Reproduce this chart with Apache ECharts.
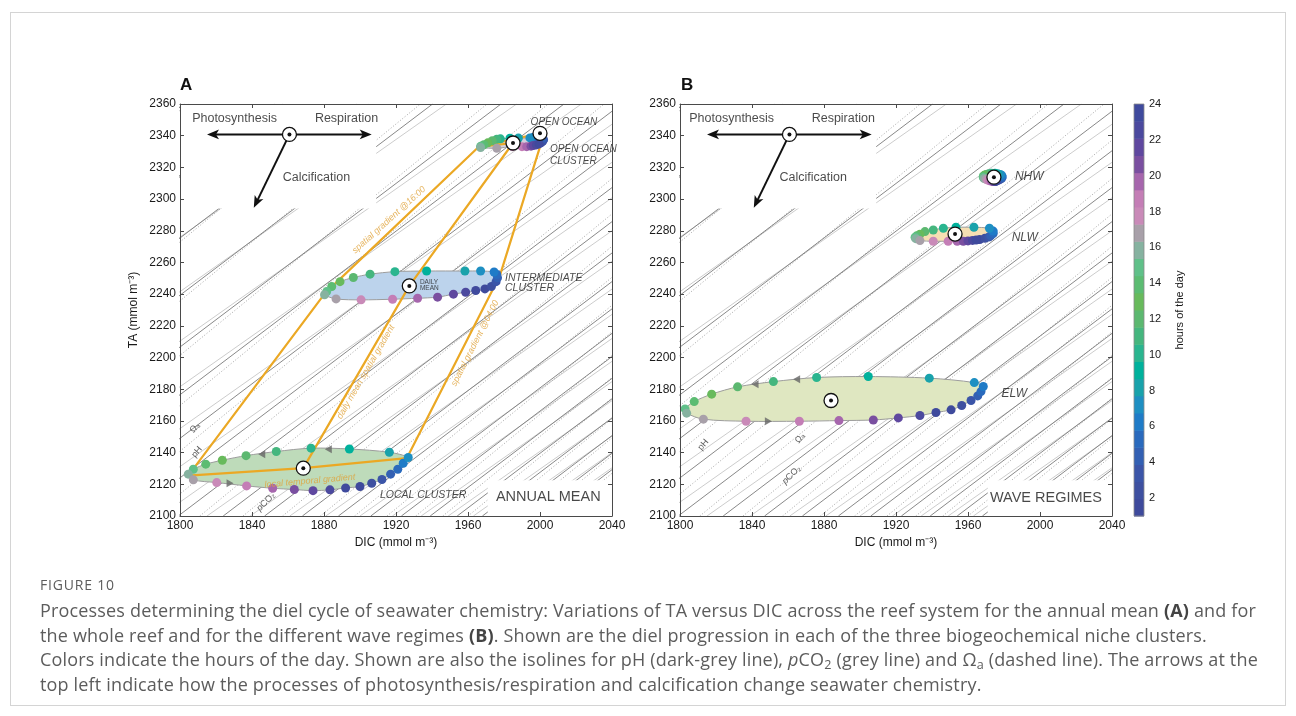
<!DOCTYPE html>
<html>
<head>
<meta charset="utf-8">
<title>TA versus DIC diel cycles</title>
<script src="https://cdn.jsdelivr.net/npm/echarts@6/dist/echarts.min.js"></script>
<style>
  html, body { margin: 0; padding: 0; background: #fff; }
  #wrap { position: relative; width: 1296px; height: 716px; overflow: hidden; }
  #frame { position: absolute; left: 10px; top: 12px; width: 1276px; height: 694px; border: 1px solid #d4d4d4; box-sizing: border-box; }
  #chart { position: absolute; left: 0; top: 0; width: 1296px; height: 716px; }
  #caption { position: absolute; left: 40px; top: 574px; font-family: 'Open Sans', Lato, sans-serif; color: #5c5c5c; white-space: nowrap; }
  #caption .fig { font-size: 14px; line-height: 22px; letter-spacing: 0.8px; }
  #caption .txt { font-size: 18px; line-height: 24.7px; margin-top: 2px; letter-spacing: 0.17px; }
  #caption b { color: #444; }
  #caption sub { font-size: 0.7em; line-height: 0; vertical-align: -0.25em; }
</style>
</head>
<body>
<div id="wrap">
  <div id="frame"></div>
  <div id="chart"></div>
  <div id="caption">
    <div class="fig">FIGURE 10</div>
    <div class="txt">Processes determining the diel cycle of seawater chemistry: Variations of TA versus DIC across the reef system for the annual mean <b>(A)</b> and for<br>the whole reef and for the different wave regimes <b>(B)</b>. Shown are the diel progression in each of the three biogeochemical niche clusters.<br>Colors indicate the hours of the day. Shown are also the isolines for pH (dark-grey line), <i>p</i>CO<sub>2</sub> (grey line) and Ω<sub>a</sub> (dashed line). The arrows at the<br>top left indicate how the processes of photosynthesis/respiration and calcification change seawater chemistry.</div>
  </div>
</div>
<script>
// ---------- hours of the day and their colours ----------
const hours = [1, 2, 3, 4, 5, 6, 7, 8, 9, 10, 11, 12, 13, 14, 15, 16, 17, 18, 19, 20, 21, 22, 23, 24];
const hourColors = ['#3e4a9c', '#3e50a0', '#3b55a8', '#3360b3', '#2a6abd', '#1f7bc7', '#1e8fc2', '#19a2ab',
                    '#00b19c', '#2ab58f', '#45b67e', '#5cb870', '#68ba5c', '#5cbc72', '#60c089', '#86b2a0',
                    '#a8a0a9', '#c98ab8', '#c47eb6', '#a666ad', '#7a4fa0', '#5f489f', '#4b499e', '#3f4a9d'];
const colorbarTicks = [2, 4, 6, 8, 10, 12, 14, 16, 18, 20, 22, 24];

// ---------- panel A: annual mean, hourly values (hours 1-24) ----------
const localDIC = [1900.0, 1906.5, 1912.2, 1917.0, 1921.0, 1924.0, 1926.8, 1916.3, 1894.1, 1872.8, 1853.5, 1836.7,
                  1823.5, 1814.3, 1807.4, 1804.6, 1807.4, 1820.4, 1837.0, 1851.5, 1863.5, 1873.9, 1883.3, 1892.0];
const localTA  = [2118.6, 2120.7, 2123.0, 2126.4, 2129.5, 2133.3, 2136.9, 2140.2, 2142.3, 2142.8, 2140.7, 2138.1,
                  2135.2, 2132.7, 2129.5, 2126.4, 2122.8, 2121.1, 2119.0, 2117.5, 2116.7, 2116.0, 2116.5, 2117.7];

const interDIC = [1969.4, 1973.0, 1975.6, 1976.4, 1976.0, 1974.5, 1967.0, 1958.3, 1937.0, 1919.4, 1905.6, 1896.3,
                  1888.9, 1884.3, 1881.5, 1880.3, 1886.7, 1900.6, 1918.1, 1932.0, 1943.1, 1951.9, 1958.7, 1964.3];
const interTA  = [2243.3, 2244.8, 2247.9, 2250.3, 2252.4, 2254.0, 2254.6, 2254.6, 2254.6, 2254.2, 2252.6, 2250.5,
                  2247.9, 2244.8, 2241.6, 2239.6, 2237.0, 2236.4, 2236.8, 2237.4, 2238.1, 2240.0, 2241.2, 2242.3];

const openDIC  = [2000.5, 2001.5, 2002.0, 2001.5, 1999.0, 1996.0, 1994.4, 1988.0, 1983.3, 1978.0, 1976.0, 1973.5,
                  1971.0, 1968.8, 1967.0, 1967.0, 1976.0, 1984.7, 1990.0, 1992.6, 1995.0, 1996.3, 1998.0, 1999.5];
const openTA   = [2335.5, 2336.5, 2337.5, 2338.3, 2338.8, 2338.8, 2338.6, 2338.5, 2338.4, 2338.0, 2337.8, 2336.8,
                  2335.5, 2334.3, 2333.3, 2332.5, 2332.1, 2333.1, 2333.1, 2333.1, 2333.4, 2333.8, 2334.2, 2334.8];

// daily means: local, intermediate, open-ocean cluster, open ocean
const meanA_DIC = [1868.5, 1927.4, 1985.0, 2000.0];
const meanA_TA  = [2130.2, 2245.2, 2335.4, 2341.5];

// gradients between the clusters
const grad16DIC   = [1804.6, 1880.5, 1966.0];
const grad16TA    = [2125.5, 2240.5, 2333.0];
const gradMeanDIC = [1868.5, 1927.4, 1985.0];
const gradMeanTA  = [2130.2, 2245.2, 2335.4];
const grad04DIC   = [1926.0, 1977.8, 2001.5];
const grad04TA    = [2136.5, 2252.0, 2338.5];
const localGradDIC = [1804.6, 1868.5, 1926.0];
const localGradTA  = [2125.5, 2130.2, 2136.5];
const openGradDIC  = [1985.0, 1966.0, 2000.0];
const openGradTA   = [2335.4, 2333.0, 2341.5];

// direction marks on the local loop
const turnA_DIC = [1845.4, 1882.4, 1827.8];
const turnA_TA  = [2139.0, 2142.1, 2120.7];
const turnA_rot = [90, 90, -90];

// ---------- panel B: wave regimes, hourly values (hours 1-24) ----------
const nhwDIC = [1976.0, 1977.0, 1978.0, 1978.8, 1979.0, 1978.8, 1978.0, 1976.5, 1975.0, 1973.0, 1971.5, 1970.0,
                1969.0, 1968.5, 1968.5, 1969.0, 1970.0, 1971.0, 1972.0, 1973.0, 1974.0, 1974.8, 1975.3, 1975.7];
const nhwTA  = [2311.5, 2312.0, 2312.6, 2313.3, 2314.0, 2314.8, 2315.5, 2316.0, 2316.3, 2316.3, 2316.0, 2315.5,
                2315.0, 2314.3, 2313.6, 2313.0, 2312.5, 2312.0, 2311.6, 2311.3, 2311.1, 2311.1, 2311.2, 2311.3];

const nlwDIC = [1966.5, 1969.4, 1971.5, 1972.6, 1974.0, 1974.0, 1971.9, 1963.3, 1953.3, 1946.3, 1940.7, 1936.1,
                1933.3, 1931.5, 1930.6, 1931.0, 1933.3, 1940.7, 1949.0, 1954.0, 1957.4, 1960.0, 1962.5, 1964.5];
const nlwTA  = [2274.5, 2275.3, 2276.0, 2276.8, 2278.3, 2279.8, 2281.6, 2282.2, 2282.2, 2281.6, 2280.5, 2279.5,
                2277.8, 2276.8, 2275.9, 2275.0, 2273.8, 2273.4, 2273.4, 2273.4, 2273.4, 2273.6, 2273.9, 2274.2];

const elwDIC = [1950.6, 1956.5, 1961.7, 1965.4, 1967.2, 1968.5, 1963.5, 1938.5, 1904.6, 1875.9, 1851.9, 1832.0,
                1817.6, 1807.9, 1802.8, 1803.7, 1813.0, 1836.7, 1866.3, 1888.3, 1907.4, 1921.3, 1933.3, 1942.2];
const elwTA  = [2167.0, 2169.7, 2172.9, 2175.8, 2178.5, 2181.7, 2184.2, 2187.0, 2188.0, 2187.4, 2184.8, 2181.5,
                2176.9, 2172.2, 2167.6, 2164.9, 2161.1, 2159.8, 2159.8, 2160.2, 2160.6, 2161.9, 2163.4, 2165.3];

// daily means: NHW, NLW, ELW
const meanB_DIC = [1974.4, 1952.8, 1883.9];
const meanB_TA  = [2313.8, 2277.9, 2172.9];

const turnB_DIC = [1841.7, 1864.8, 1849.1];
const turnB_TA  = [2183.2, 2186.3, 2159.8];
const turnB_rot = [90, 90, -90];

// ---------- process arrows (photosynthesis / respiration / calcification) ----------
const processDIC = 1860.8, processTA = 2340.8;
const photoTip = [1815.0, 2340.8];
const respTip  = [1906.5, 2340.8];
const calcTip  = [1841.0, 2294.5];

// ---------- isolines: DIC where each line meets TA = 2100, and slope dTA/dDIC ----------
const phD0    = [1500, 1550, 1596, 1638, 1676, 1711, 1743, 1772, 1799, 1824, 1847, 1868, 1888, 1906, 1923,
                 1939, 1954, 1968, 1981, 1994, 2006, 2018, 2029, 2040];
const pco2D0  = [1480, 1532, 1580, 1623, 1662, 1698, 1731, 1761, 1789, 1815, 1839, 1861, 1881, 1900, 1918,
                 1934, 1949, 1963, 1977, 1990, 2002, 2014, 2025, 2036];
const omegaD0 = [1522, 1570, 1614, 1654, 1691, 1725, 1756, 1785, 1811, 1835, 1857, 1878, 1897, 1915, 1931,
                 1946, 1960, 1974, 1987, 1999, 2011, 2022, 2033];
const phSlope = 0.86, pco2Slope = 0.80, omegaSlope = 0.93;

// blank areas behind the process arrows and the panel titles [DIC0, TA0, DIC1, TA1]
const masks = [[1800, 2294, 1909, 2360], [1971, 2100, 2040, 2122.5]];

const TA_MIN = 2100, TA_MAX = 2360;
const FONT = "'Liberation Sans', Arial, Helvetica, sans-serif";
const ORANGE = '#eba824';
const INK = '#1a1a1a';
const AXIS = { color: '#4a4a4a', width: 1 };

// ---------- helpers ----------
const pairs = (xs, ys) => xs.map((x, i) => [x, ys[i]]);
const plain = v => String(v);

function dicAxis(grid, pos, labelled) {
  return {
    type: 'value', gridIndex: grid, position: pos, min: 1800, max: 2040, interval: 40, z: 10,
    axisLine: { show: true, onZero: false, lineStyle: AXIS },
    axisTick: { show: true, inside: true, length: 4, lineStyle: AXIS },
    axisLabel: { show: labelled, margin: 4, color: INK, fontSize: 12, fontFamily: FONT, formatter: plain },
    splitLine: { show: false },
    name: labelled ? 'DIC (mmol m⁻³)' : '', nameLocation: 'middle', nameGap: 18,
    nameTextStyle: { color: INK, fontSize: 12, fontFamily: FONT }
  };
}
function taAxis(grid, pos, labelled, named) {
  return {
    type: 'value', gridIndex: grid, position: pos, min: TA_MIN, max: TA_MAX, interval: 20, z: 10,
    axisLine: { show: true, onZero: false, lineStyle: AXIS },
    axisTick: { show: true, inside: true, length: 4, lineStyle: AXIS },
    axisLabel: { show: labelled, margin: 4, color: INK, fontSize: 12, fontFamily: FONT, formatter: plain },
    splitLine: { show: false },
    name: named ? 'TA (mmol m⁻³)' : '', nameLocation: 'middle', nameGap: 40, nameRotate: 90,
    nameTextStyle: { color: INK, fontSize: 12, fontFamily: FONT }
  };
}

function isoSeries(ax, d0s, slope, lineStyle) {
  const data = [];
  d0s.forEach(d => { data.push([d, TA_MIN], [d + (TA_MAX - TA_MIN) / slope, TA_MAX], '-'); });
  return { type: 'line', xAxisIndex: ax, yAxisIndex: ax, z: 1, silent: true, symbol: 'none',
           clip: true, connectNulls: false, data, lineStyle };
}
function maskSeries(ax) {
  return {
    type: 'custom', xAxisIndex: ax, yAxisIndex: ax, z: 2, silent: true, data: masks,
    renderItem(p, api) {
      const a = api.coord([api.value(0), api.value(1)]);
      const b = api.coord([api.value(2), api.value(3)]);
      return { type: 'rect', shape: { x: Math.min(a[0], b[0]), y: Math.min(a[1], b[1]),
               width: Math.abs(b[0] - a[0]), height: Math.abs(b[1] - a[1]) }, style: { fill: '#fff' } };
    }
  };
}
function blobSeries(ax, dic, ta, fill) {
  return {
    type: 'custom', xAxisIndex: ax, yAxisIndex: ax, z: 3, silent: true, data: [[dic[0], ta[0]]],
    renderItem(p, api) {
      const pts = dic.map((d, i) => api.coord([d, ta[i]]));
      return { type: 'polygon', shape: { points: pts, smooth: 0.3 },
               style: { fill, stroke: '#9c9c9c', lineWidth: 1 } };
    }
  };
}
function gradLine(ax, dic, ta) {
  return { type: 'line', xAxisIndex: ax, yAxisIndex: ax, z: 4, silent: true, symbol: 'none',
           data: pairs(dic, ta), lineStyle: { color: ORANGE, width: 2.2 } };
}
function turnMarks(ax, dic, ta, rot) {
  return { type: 'scatter', xAxisIndex: ax, yAxisIndex: ax, z: 5, silent: true, symbol: 'triangle',
           symbolSize: [8, 7], itemStyle: { color: '#666' },
           data: dic.map((d, i) => ({ value: [d, ta[i]], symbolRotate: rot[i] })) };
}
function hourDots(ax, dic, ta) {
  return { type: 'scatter', xAxisIndex: ax, yAxisIndex: ax, z: 6, silent: true, symbolSize: 9,
           data: dic.map((d, i) => [d, ta[i], hours[i]]),
           itemStyle: { opacity: 1, color: p => hourColors[p.value[2] - 1] } };
}
function meanMarks(ax, dic, ta) {
  const data = pairs(dic, ta);
  return [
    { type: 'scatter', xAxisIndex: ax, yAxisIndex: ax, z: 7, silent: true, symbolSize: 14, data,
      itemStyle: { color: '#fff', borderColor: '#111', borderWidth: 1.3, opacity: 1 } },
    { type: 'scatter', xAxisIndex: ax, yAxisIndex: ax, z: 7, silent: true, symbolSize: 4, data,
      itemStyle: { color: '#111', opacity: 1 } }
  ];
}
// arrows from the process origin to each tip, with a notched head
function processArrows(ax) {
  return [
    { type: 'custom', xAxisIndex: ax, yAxisIndex: ax, z: 7, silent: true,
      data: [photoTip, respTip, calcTip],
      renderItem(p, api) {
        const c = api.coord([processDIC, processTA]);
        const t = api.coord([api.value(0), api.value(1)]);
        const dx = t[0] - c[0], dy = t[1] - c[1], L = Math.hypot(dx, dy);
        const ux = dx / L, uy = dy / L, head = 12, half = 4.8;
        const bx = t[0] - ux * head, by = t[1] - uy * head;
        return { type: 'group', children: [
          { type: 'line', shape: { x1: c[0], y1: c[1], x2: bx + ux * 4, y2: by + uy * 4 },
            style: { stroke: '#111', lineWidth: 2 } },
          { type: 'polygon', shape: { points: [[t[0], t[1]], [bx - uy * half, by + ux * half],
                                              [bx + ux * 3, by + uy * 3], [bx + uy * half, by - ux * half]] },
            style: { fill: '#111' } }
        ] };
      } },
    ...meanMarks(ax, [processDIC], [processTA])
  ];
}
function note(ax, x, y, text, extra) {
  return {
    type: 'scatter', xAxisIndex: ax, yAxisIndex: ax, z: 8, silent: true, symbolSize: 0.1,
    itemStyle: { color: 'transparent' }, data: [[x, y]],
    label: Object.assign({ show: true, position: 'inside', formatter: text, color: INK,
                           fontSize: 10, fontFamily: FONT }, extra || {})
  };
}
const leftNote = (ax, x, y, text, extra) =>
  note(ax, x, y, text, Object.assign({ position: [0, 0], align: 'left', verticalAlign: 'middle' }, extra || {}));
const italic = { fontStyle: 'italic' };
const gradText = { color: '#e0a33a', fontStyle: 'italic', fontSize: 9 };
const isoText = { fontSize: 9, color: '#333',
                  rich: { i: { fontStyle: 'italic', fontSize: 9, color: '#333', fontFamily: FONT },
                          n: { fontSize: 9, color: '#333', fontFamily: FONT } } };

function panelCommon(ax) {
  return [
    isoSeries(ax, pco2D0, pco2Slope, { color: '#c6c6c6', width: 0.9 }),
    isoSeries(ax, omegaD0, omegaSlope, { color: '#8e8e8e', width: 0.8, type: [1, 2] }),
    isoSeries(ax, phD0, phSlope, { color: '#7a7a7a', width: 0.9 }),
    maskSeries(ax),
    ...processArrows(ax)
  ];
}

// ---------- colour bar ----------
const colorbarSeries = [
  { type: 'custom', xAxisIndex: 4, yAxisIndex: 4, z: 3, silent: true, data: hours.map(h => [0, h]),
    renderItem(p, api) {
      const h = api.value(1), step = 23 / 24;
      const a = api.coord([0, 1 + h * step]), b = api.coord([1, 1 + (h - 1) * step]);
      return { type: 'rect', shape: { x: a[0], y: a[1], width: b[0] - a[0], height: b[1] - a[1] + 0.5 },
               style: { fill: hourColors[h - 1] } };
    } },
  { type: 'custom', xAxisIndex: 4, yAxisIndex: 4, z: 4, silent: true, data: [[0, 24]],
    renderItem(p, api) {
      const a = api.coord([0, 24]), b = api.coord([1, 1]);
      return { type: 'rect', shape: { x: a[0], y: a[1], width: b[0] - a[0], height: b[1] - a[1] },
               style: { fill: 'none', stroke: '#8a8a8a', lineWidth: 0.8 } };
    } }
];

const option = {
  animation: false,
  backgroundColor: 'transparent',
  textStyle: { fontFamily: FONT },
  grid: [
    { left: 180, top: 104, width: 432, height: 412 },
    { left: 680, top: 104, width: 432, height: 412 },
    { left: 1134, top: 104, width: 10, height: 412 }
  ],
  xAxis: [
    dicAxis(0, 'bottom', true), dicAxis(0, 'top', false),
    dicAxis(1, 'bottom', true), dicAxis(1, 'top', false),
    { type: 'value', gridIndex: 2, min: 0, max: 1, show: false }
  ],
  yAxis: [
    taAxis(0, 'left', true, true), taAxis(0, 'right', false, false),
    taAxis(1, 'left', true, false), taAxis(1, 'right', false, false),
    { type: 'value', gridIndex: 2, position: 'right', min: 1, max: 24,
      axisLine: { show: false },
      axisTick: { show: true, inside: false, length: 3, customValues: colorbarTicks, lineStyle: { color: '#555' } },
      axisLabel: { show: true, customValues: colorbarTicks, margin: 5, fontSize: 11, color: INK, fontFamily: FONT },
      splitLine: { show: false },
      name: 'hours of the day', nameLocation: 'middle', nameRotate: 90, nameGap: 30,
      nameTextStyle: { color: INK, fontSize: 11, fontFamily: FONT } }
  ],
  graphic: [
    { type: 'text', left: 180, top: 77, style: { text: 'A', font: `bold 17px ${FONT}`, fill: '#111' } },
    { type: 'text', left: 681, top: 77, style: { text: 'B', font: `bold 17px ${FONT}`, fill: '#111' } }
  ],
  series: [
    // ----- panel A -----
    ...panelCommon(0),
    blobSeries(0, openDIC, openTA, '#d3d0dc'),
    blobSeries(0, interDIC, interTA, '#bcd3ec'),
    blobSeries(0, localDIC, localTA, '#bedbba'),
    gradLine(0, grad16DIC, grad16TA),
    gradLine(0, gradMeanDIC, gradMeanTA),
    gradLine(0, grad04DIC, grad04TA),
    gradLine(0, localGradDIC, localGradTA),
    gradLine(0, openGradDIC, openGradTA),
    turnMarks(0, turnA_DIC, turnA_TA, turnA_rot),
    hourDots(0, openDIC, openTA),
    hourDots(0, interDIC, interTA),
    hourDots(0, localDIC, localTA),
    ...meanMarks(0, meanA_DIC, meanA_TA),
    note(0, 1830.3, 2351, 'Photosynthesis', { fontSize: 12.5 }),
    note(0, 1892.5, 2351, 'Respiration', { fontSize: 12.5 }),
    note(0, 1875.8, 2313.9, 'Calcification', { fontSize: 12.5 }),
    note(0, 2013.3, 2348.8, 'OPEN OCEAN', italic),
    leftNote(0, 2005.6, 2331.2, 'OPEN OCEAN', italic),
    leftNote(0, 2005.6, 2323.6, 'CLUSTER', italic),
    leftNote(0, 1980.6, 2250.0, 'INTERMEDIATE', Object.assign({ fontSize: 10.5 }, italic)),
    leftNote(0, 1980.6, 2243.5, 'CLUSTER', Object.assign({ fontSize: 10.5 }, italic)),
    leftNote(0, 1933.3, 2247.6, 'DAILY', { fontSize: 6.5 }),
    leftNote(0, 1933.3, 2243.8, 'MEAN', { fontSize: 6.5 }),
    leftNote(0, 1911.1, 2113.3, 'LOCAL CLUSTER', Object.assign({ fontSize: 10.5 }, italic)),
    note(0, 2004.6, 2111.8, 'ANNUAL MEAN', { fontSize: 14.5 }),
    note(0, 1916.1, 2286.8, 'spatial gradient @16:00', Object.assign({ rotate: 42 }, gradText)),
    note(0, 1903.3, 2190.9, 'daily mean spatial gradient', Object.assign({ rotate: 60 }, gradText)),
    note(0, 1963.9, 2209.0, 'spatial gradient @04:00', Object.assign({ rotate: 63 }, gradText)),
    note(0, 1872.2, 2122.1, 'local temporal gradient', Object.assign({ rotate: 5 }, gradText)),
    note(0, 1808.3, 2155.6, 'Ωₐ', Object.assign({ rotate: 50 }, isoText)),
    note(0, 1809.4, 2140.4, 'pH', Object.assign({ rotate: 50 }, isoText)),
    note(0, 1847.8, 2108.9, '{i|p}{n|CO₂}', Object.assign({ rotate: 45 }, isoText)),

    // ----- panel B -----
    ...panelCommon(2),
    blobSeries(2, nhwDIC, nhwTA, '#d6e4ef'),
    blobSeries(2, nlwDIC, nlwTA, '#f6dfb3'),
    blobSeries(2, elwDIC, elwTA, '#dfe7c1'),
    turnMarks(2, turnB_DIC, turnB_TA, turnB_rot),
    hourDots(2, nhwDIC, nhwTA),
    hourDots(2, nlwDIC, nlwTA),
    hourDots(2, elwDIC, elwTA),
    ...meanMarks(2, meanB_DIC, meanB_TA),
    note(2, 1828.7, 2351, 'Photosynthesis', { fontSize: 12.5 }),
    note(2, 1890.7, 2351, 'Respiration', { fontSize: 12.5 }),
    note(2, 1874.0, 2313.5, 'Calcification', { fontSize: 12.5 }),
    leftNote(2, 1986.1, 2314.1, 'NHW', Object.assign({ fontSize: 12 }, italic)),
    leftNote(2, 1984.3, 2275.9, 'NLW', Object.assign({ fontSize: 12 }, italic)),
    leftNote(2, 1978.7, 2176.9, 'ELW', Object.assign({ fontSize: 12 }, italic)),
    note(2, 2003.3, 2111.4, 'WAVE REGIMES', { fontSize: 14.5 }),
    note(2, 1812.9, 2144.9, 'pH', Object.assign({ rotate: 50 }, isoText)),
    note(2, 1866.7, 2149.1, 'Ωₐ', Object.assign({ rotate: 50 }, isoText)),
    note(2, 1862.0, 2125.9, '{i|p}{n|CO₂}', Object.assign({ rotate: 45 }, isoText)),

    // ----- colour bar -----
    ...colorbarSeries
  ]
};

const chart = echarts.init(document.getElementById('chart'), null, { renderer: 'canvas', width: 1296, height: 716 });
chart.setOption(option);
</script>
</body>
</html>
